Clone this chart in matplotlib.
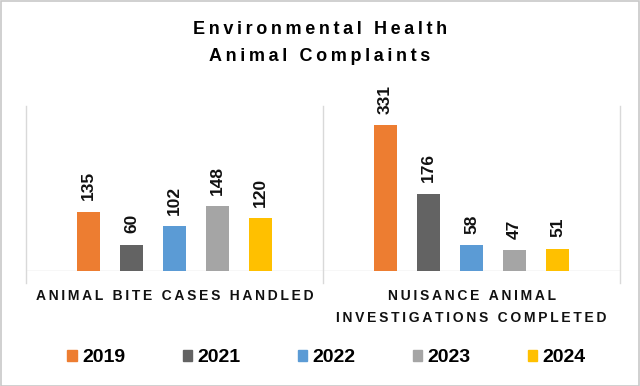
import numpy as np
import matplotlib.pyplot as plt

categories = ["ANIMAL BITE CASES HANDLED", "NUISANCE ANIMAL\nINVESTIGATIONS COMPLETED"]
years = ["2019", "2021", "2022", "2023", "2024"]
values = {
    "2019": [135, 331],
    "2021": [60, 176],
    "2022": [102, 58],
    "2023": [148, 47],
    "2024": [120, 51],
}
colors = ["#ED7D31", "#636363", "#5B9BD5", "#A5A5A5", "#FFC000"]
title = "Environmental Health\nAnimal Complaints"

plt.rcParams['font.family'] = ['Liberation Sans', 'DejaVu Sans']


def spaced(s, sp='\u2009'):
    # mimic the tracking (letter spacing) of the original Excel chart
    return '\n'.join(sp.join(line) for line in s.split('\n'))


fig = plt.figure(figsize=(6.4, 3.86), dpi=100)
ax = fig.add_axes([26 / 640, 1 - 271 / 386, 594 / 640, 165 / 386])

x = np.arange(len(categories))
width = 0.078
step = 0.145
for i, (yr, c) in enumerate(zip(years, colors)):
    pos = x + (i - 2) * step
    bars = ax.bar(pos, values[yr], width, color=c, label=yr, zorder=3)
    for b, v in zip(bars, values[yr]):
        ax.annotate(str(v), (b.get_x() + b.get_width() / 2, v),
                    xytext=(0, 8), textcoords='offset points',
                    rotation=90, ha='center', va='bottom',
                    fontsize=12.5, fontweight='bold', color='#111111')

ax.set_xlim(-0.5, 1.5)
ax.set_ylim(0, 375)
for s in ax.spines.values():
    s.set_visible(False)
ax.set_yticks([])
ax.set_xticks([])

# baseline and category separators
ax.axhline(0, color='#D9D9D9', lw=1, zorder=2)
for xv in [-0.5, 0.5, 1.5]:
    ax.plot([xv, xv], [-28, 375], color='#D9D9D9', lw=1, clip_on=False, zorder=1)

for xi, cat in zip(x, categories):
    ax.text(xi, -40, spaced(cat), ha='center', va='top', fontsize=10,
            fontweight='bold', color='#111111', linespacing=1.8)

fig.text(0.5, 1 - 43 / 386, spaced(title), ha='center', va='center',
         fontsize=13, fontweight='bold', color='#000000', linespacing=1.8)

handles = [plt.Rectangle((0, 0), 1, 1, color=c) for c in colors]
fig.legend(handles, years, loc='center', bbox_to_anchor=(0.51, 1 - 358 / 386),
           ncol=5, frameon=False, handlelength=0.5, handleheight=0.5,
           columnspacing=2.95, handletextpad=0.25, prop={'weight': 'bold', 'size': 14})

fig.patches.append(plt.Rectangle((0.001, 0.001), 0.997, 0.997, transform=fig.transFigure,
                                 fill=False, edgecolor='#C8C8C8', lw=1.2))

fig.savefig("out.png", dpi=100)
